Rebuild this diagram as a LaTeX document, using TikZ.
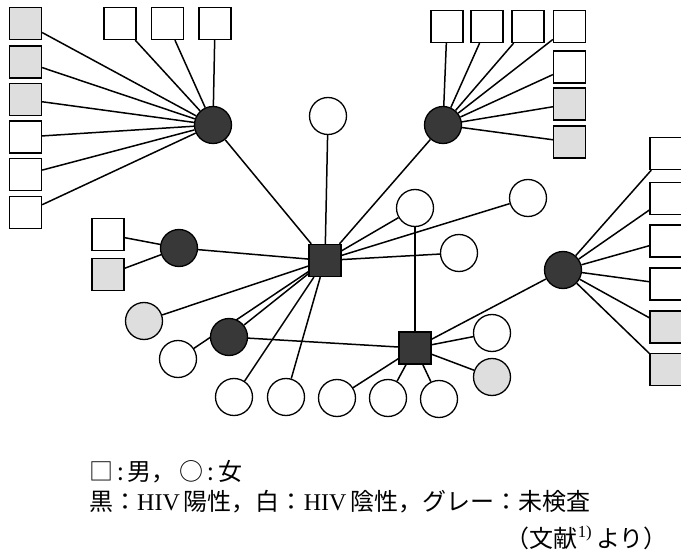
\documentclass[tikz,border=0pt]{standalone}
\usepackage{fontspec}
\setmainfont{Liberation Serif}
\newfontfamily\jp{Noto Sans CJK JP}
\usetikzlibrary{backgrounds}
\definecolor{hivpos}{gray}{0.22}
\definecolor{hivunk}{gray}{0.87}
\begin{document}
\begin{tikzpicture}[x=1pt,y=-1pt,
  sq/.style={draw,line width=1.3pt,minimum size=32pt,inner sep=0pt,rectangle},
  ci/.style={draw,line width=1.3pt,minimum size=37pt,inner sep=0pt,circle},
  blk/.style={fill=hivpos}, wht/.style={fill=white}, gry/.style={fill=hivunk},
  link/.style={line width=1.5pt},
  legend/.style={inner sep=0pt,font=\fontsize{24}{28}\selectfont}]
\useasboundingbox (0,0) rectangle (681,556);
\clip (0,0) rectangle (681,556);
% hubs and central nodes
\node[ci,blk] (A) at (213,125) {};
\node[ci,blk] (B) at (443,125) {};
\node[ci,wht] (T) at (328,116) {};
\node[sq,blk] (M) at (325,260.5) {};
\node[ci,wht] (C1) at (415,208) {};
\node[ci,wht] (C3) at (528,198) {};
\node[ci,wht] (C2) at (459,253) {};
\node[ci,blk] (D) at (563,270) {};
\node[sq,blk] (N) at (415,348) {};
\node[ci,blk] (F) at (179,248) {};
\node[ci,blk] (E) at (229,337) {};
\node[ci,gry] (G1) at (144,321) {};
\node[ci,wht] (W1) at (178,359) {};
\node[ci,wht] (N1) at (492,333) {};
\node[ci,gry] (N2) at (492,377) {};
\node[ci,wht] (B1) at (234,397) {};
\node[ci,wht] (B2) at (286,397) {};
\node[ci,wht] (B3) at (337,398) {};
\node[ci,wht] (B4) at (388,398) {};
\node[ci,wht] (B5) at (439,399) {};
% squares around A
\node[sq,gry] (L1) at (25.5,23.5) {};
\node[sq,gry] (L2) at (25.5,62) {};
\node[sq,gry] (L3) at (25.5,99.5) {};
\node[sq,wht] (L4) at (25.5,137) {};
\node[sq,wht] (L5) at (25.5,174.5) {};
\node[sq,wht] (L6) at (25.5,212.5) {};
\node[sq,wht] (TA1) at (120,23.5) {};
\node[sq,wht] (TA2) at (167.5,23.5) {};
\node[sq,wht] (TA3) at (215,23.5) {};
% squares around B
\node[sq,wht] (TB1) at (447,26.5) {};
\node[sq,wht] (TB2) at (487,26.5) {};
\node[sq,wht] (TB3) at (528,26.5) {};
\node[sq,wht] (TB4) at (569.5,26.5) {};
\node[sq,wht] (RB1) at (569.5,67) {};
\node[sq,gry] (RB2) at (569.5,104) {};
\node[sq,gry] (RB3) at (569.5,142) {};
% squares around F
\node[sq,wht] (FS1) at (108,234.5) {};
\node[sq,gry] (FS2) at (108,274.5) {};
% squares around D
\node[sq,wht] (RD1) at (666,153.5) {};
\node[sq,wht] (RD2) at (666,198.5) {};
\node[sq,wht] (RD3) at (666,241) {};
\node[sq,wht] (RD4) at (666,284) {};
\node[sq,gry] (RD5) at (666,327) {};
\node[sq,gry] (RD6) at (666,369.5) {};
\begin{pgfonlayer}{background}
\foreach \s in {L1,L2,L3,L4,L5,L6,TA1,TA2,TA3} \draw[link] (\s) -- (A);
\foreach \s in {TB1,TB2,TB3,TB4,RB1,RB2,RB3} \draw[link] (\s) -- (B);
\foreach \s in {FS1,FS2} \draw[link] (\s) -- (F);
\foreach \s in {RD1,RD2,RD3,RD4,RD5,RD6} \draw[link] (\s) -- (D);
\foreach \s in {A,T,B,C1,C3,C2,F,G1,W1,E,B1,B2} \draw[link] (M) -- (\s);
\foreach \s in {D,E,N1,N2,B3,B4,B5} \draw[link] (N) -- (\s);
\draw[link] (C1) -- (N);
\end{pgfonlayer}
% legend
\node[legend,anchor=base west] (leg1) at (89,480) {{\jp □\,:\,男，\,○\,:\,女}};
\node[legend,anchor=base west] (leg2) at (89,510) {{\jp 黒：}HIV\,{\jp 陽性，白：}HIV\,{\jp 陰性，グレー：未検査}};
\node[legend,anchor=base east] (leg3) at (668,547) {{\jp （文献}\textsuperscript{1)}\,{\jp より）}};
\end{tikzpicture}
\end{document}
